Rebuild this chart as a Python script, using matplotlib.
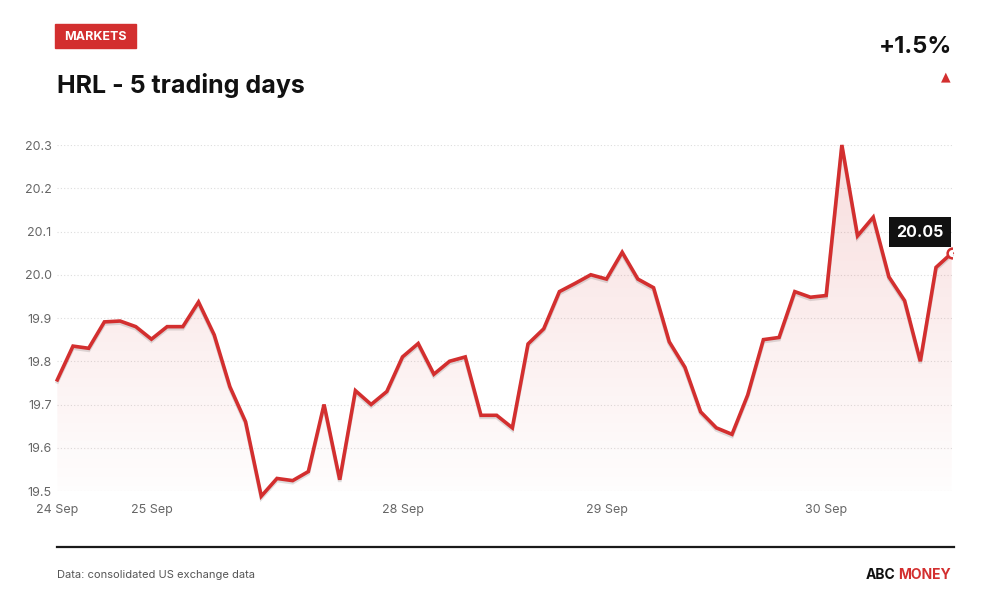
import numpy as np
import matplotlib.pyplot as plt
from matplotlib import patheffects as pe
from matplotlib.patches import Rectangle
from matplotlib.lines import Line2D

plt.rcParams['font.family'] = ['Inter', 'DejaVu Sans']

# Price data (one point per interval)
prices = [19.757, 19.835, 19.83, 19.891, 19.893, 19.88, 19.851, 19.88, 19.88, 19.937,
          19.861, 19.741, 19.66, 19.488, 19.529, 19.524, 19.545, 19.70, 19.526, 19.732,
          19.70, 19.73, 19.81, 19.841, 19.77, 19.80, 19.81, 19.675, 19.675, 19.646,
          19.84, 19.875, 19.961, 19.98, 20.0, 19.99, 20.052, 19.99, 19.97, 19.845,
          19.786, 19.683, 19.646, 19.631, 19.722, 19.85, 19.855, 19.961, 19.948, 19.952,
          20.30, 20.09, 20.133, 19.995, 19.94, 19.80, 20.017, 20.05]
day_labels = ['24 Sep', '25 Sep', '28 Sep', '29 Sep', '30 Sep']
day_starts = [0, 6, 22, 35, 49]
y_ticks = [19.5, 19.6, 19.7, 19.8, 19.9, 20.0, 20.1, 20.2, 20.3]
ticker = 'HRL'
change_label = '+1.5%'
last_label = '20.05'

RED = '#d32f2f'
W, H = 1000, 600

def fx(px):
    return px / W

def fy(py):
    return 1 - py / H

fig = plt.figure(figsize=(10, 6), dpi=100)
ax = fig.add_axes([fx(57.3), fy(491), fx(951.7) - fx(57.3), fy(145) - fy(491)])

x = np.arange(len(prices))
ax.set_xlim(0, len(prices) - 1)
ax.set_ylim(19.5, 20.3)

# gridlines
for v in y_ticks:
    ax.axhline(v, color='#dddddd', lw=0.8, ls=(0, (1, 2)), zorder=0)

# gradient fill under the line
poly = ax.fill_between(x, prices, 19.5, color='none', lw=0)
grad = np.zeros((256, 1, 4))
grad[:, 0, 0] = 0.83
grad[:, 0, 1] = 0.18
grad[:, 0, 2] = 0.18
grad[:, 0, 3] = np.linspace(0.01, 0.16, 256)
img = ax.imshow(grad, extent=[0, len(prices) - 1, 19.5, 20.3], origin='lower',
                aspect='auto', zorder=1)
img.set_clip_path(poly.get_paths()[0], transform=ax.transData)

ax.plot(x, prices, color=RED, lw=2.6, zorder=3, clip_on=False, solid_joinstyle='miter',
        path_effects=[pe.SimpleLineShadow(offset=(0, -1.5), shadow_color='k', alpha=0.12),
                      pe.Normal()])
ax.plot(x[-1], prices[-1], 'o', ms=7, mfc='white', mec=RED, mew=1.8, zorder=4)

ax.annotate(last_label, xy=(x[-1], prices[-1]), xytext=(-32, 21), textcoords='offset pixels',
            ha='center', va='center', color='white', fontsize=11.5, fontweight='bold',
            bbox=dict(boxstyle='square,pad=0.45', fc='#111111', ec='none'), zorder=5)

for s in ax.spines.values():
    s.set_visible(False)
ax.set_yticks(y_ticks)
ax.set_yticklabels([f'{v:.1f}' for v in y_ticks])
ax.set_xticks(day_starts)
ax.set_xticklabels(day_labels)
ax.tick_params(axis='both', length=0, labelsize=9, colors='#666666')
ax.tick_params(axis='y', pad=4)
ax.tick_params(axis='x', pad=9)

# header
fig.add_artist(Rectangle((fx(55), fy(48)), fx(81), 24 / H, color=RED,
                         transform=fig.transFigure))
fig.text(fx(95.5), fy(36.5), 'MARKETS', color='white', fontsize=9, fontweight='bold',
         ha='center', va='center')
fig.text(fx(57), fy(85), f'{ticker} - 5 trading days', fontsize=18, fontweight='bold',
         color='#111111', ha='left', va='center')
fig.text(fx(952), fy(47), change_label, fontsize=17, fontweight='bold',
         color='#111111', ha='right', va='center')
fig.text(fx(946), fy(77), '▲', fontsize=9, color=RED, ha='center', va='center',
         family=['DejaVu Sans'])

# footer
fig.add_artist(Line2D([fx(57), fx(954)], [fy(547), fy(547)], color='#1a1a1a', lw=1.6))
fig.text(fx(57), fy(575), 'Data: consolidated US exchange data', fontsize=8,
         color='#555555', ha='left', va='center')
fig.text(fx(951), fy(575), 'MONEY', fontsize=10, fontweight='bold', color=RED,
         ha='right', va='center')
fig.text(fx(895), fy(575), 'ABC', fontsize=10, fontweight='bold', color='#111111',
         ha='right', va='center')

fig.savefig('out.png', dpi=100)
